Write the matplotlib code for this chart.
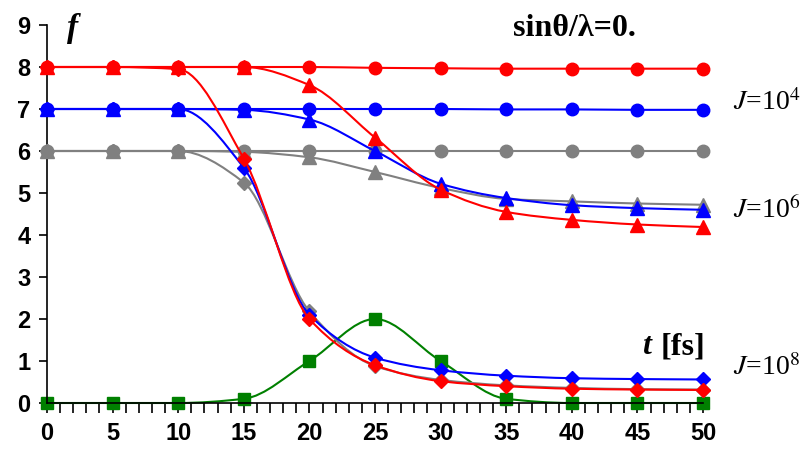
import numpy as np
import matplotlib
matplotlib.use('Agg')
from matplotlib import pyplot as plt
from matplotlib.path import Path
from matplotlib.patches import PathPatch
from matplotlib.ticker import MultipleLocator

t = [0, 5, 10, 15, 20, 25, 30, 35, 40, 45, 50]

# J=10^4
red_circ = [8, 8, 8, 8, 8, 7.98, 7.97, 7.96, 7.96, 7.96, 7.96]
blue_circ = [7, 7, 7, 7, 7, 7, 7, 6.99, 6.99, 6.98, 6.98]
gray_circ = [6, 6, 6, 6, 6, 6, 6, 6, 6, 6, 6]

# J=10^6
red_tri = [8, 8, 8, 8, 7.57, 6.32, 5.08, 4.55, 4.36, 4.25, 4.19]
blue_tri = [7, 7, 7, 6.98, 6.75, 6.0, 5.22, 4.88, 4.71, 4.64, 4.6]
gray_tri = [6, 6, 6, 5.98, 5.85, 5.5, 5.12, 4.86, 4.8, 4.75, 4.72]

# J=10^8
red_dia = [8, 8, 7.95, 5.82, 2.0, 0.9, 0.52, 0.4, 0.34, 0.32, 0.31]
blue_dia = [7, 7, 7, 5.6, 2.1, 1.08, 0.78, 0.65, 0.59, 0.57, 0.56]
gray_dia = [6, 6, 6, 5.25, 2.18, 0.88, 0.55, 0.42, 0.36, 0.33, 0.32]

green_sq = [0, 0, 0, 0.1, 1, 2, 1, 0.1, 0, 0, 0]

RED = '#ff0000'
BLUE = '#0000ff'
GRAY = '#808080'
GREEN = '#008000'


def smooth_path(x, y):
    # monotone cubic (no overshoot) drawn as bezier segments
    x = np.asarray(x, float)
    y = np.asarray(y, float)
    h = np.diff(x)
    d = np.diff(y) / h
    m = np.zeros_like(y)
    for i in range(1, len(y) - 1):
        if d[i - 1] * d[i] > 0:
            m[i] = 2.0 / (1.0 / d[i - 1] + 1.0 / d[i])
    m[0] = d[0]
    m[-1] = d[-1]
    verts = [(x[0], y[0])]
    codes = [Path.MOVETO]
    for i in range(len(x) - 1):
        verts += [(x[i] + h[i] / 3, y[i] + m[i] * h[i] / 3),
                  (x[i + 1] - h[i] / 3, y[i + 1] - m[i + 1] * h[i] / 3),
                  (x[i + 1], y[i + 1])]
        codes += [Path.CURVE4] * 3
    return Path(verts, codes)


def series(ax, y, color, marker, ms, z):
    ax.add_patch(PathPatch(smooth_path(t, y), facecolor='none', edgecolor=color,
                           lw=1.5, zorder=z, clip_on=False))
    ax.plot(t, y, linestyle='none', marker=marker, ms=ms, color=color,
            mec=color, zorder=z + 0.5, clip_on=False)


plt.rcParams['mathtext.fontset'] = 'stix'

fig = plt.figure(figsize=(8.06, 4.49), dpi=100)
ax = fig.add_axes([47 / 806, 46 / 449, (703 - 47) / 806, (403 - 25) / 449])

series(ax, green_sq, GREEN, 's', 9, 2)
series(ax, gray_dia, GRAY, 'D', 7.5, 3)
series(ax, gray_tri, GRAY, '^', 10.5, 3)
series(ax, gray_circ, GRAY, 'o', 9, 3)
series(ax, blue_dia, BLUE, 'D', 7.5, 4)
series(ax, blue_tri, BLUE, '^', 10.5, 4)
series(ax, blue_circ, BLUE, 'o', 9, 4)
series(ax, red_dia, RED, 'D', 7.5, 5)
series(ax, red_tri, RED, '^', 10.5, 5)
series(ax, red_circ, RED, 'o', 9, 5)

ax.set_xlim(0, 50)
ax.set_ylim(0, 9)
ax.spines['top'].set_visible(False)
ax.spines['right'].set_visible(False)
ax.spines['left'].set_linewidth(1.2)
ax.spines['bottom'].set_linewidth(1.2)
ax.xaxis.set_major_locator(MultipleLocator(5))
ax.xaxis.set_minor_locator(MultipleLocator(1))
ax.yaxis.set_major_locator(MultipleLocator(1))
ax.tick_params(axis='x', which='both', direction='out', length=7, width=1.2, pad=7)
ax.tick_params(axis='y', direction='out', length=6, width=1.2, pad=6)
for lab in ax.get_xticklabels() + ax.get_yticklabels():
    lab.set_fontfamily('Liberation Sans')
    lab.set_fontweight('bold')
    lab.set_fontsize(17)

fig.text(73 / 806, 1 - 28 / 449, 'f', family='Liberation Serif', style='italic',
         weight='bold', fontsize=24, ha='center', va='center')
fig.text(574 / 806, 1 - 29 / 449, 'sinθ/λ=0.', family='Liberation Serif',
         weight='bold', fontsize=23, ha='center', va='center')
fig.text(651 / 806, 1 - 347 / 449, 't', family='Liberation Serif', style='italic',
         weight='bold', fontsize=23, ha='right', va='center')
fig.text(705 / 806, 1 - 347 / 449, '[fs]', family='Liberation Serif',
         weight='bold', fontsize=23, ha='right', va='center')

for label, ypx in [('4', 103), ('6', 210), ('8', 368)]:
    fig.text(733 / 806, 1 - ypx / 449, r'$\mathit{J}$=10$^{%s}$' % label,
             family='Liberation Serif', fontsize=20, ha='left', va='center')

fig.savefig('out.png', dpi=100)
